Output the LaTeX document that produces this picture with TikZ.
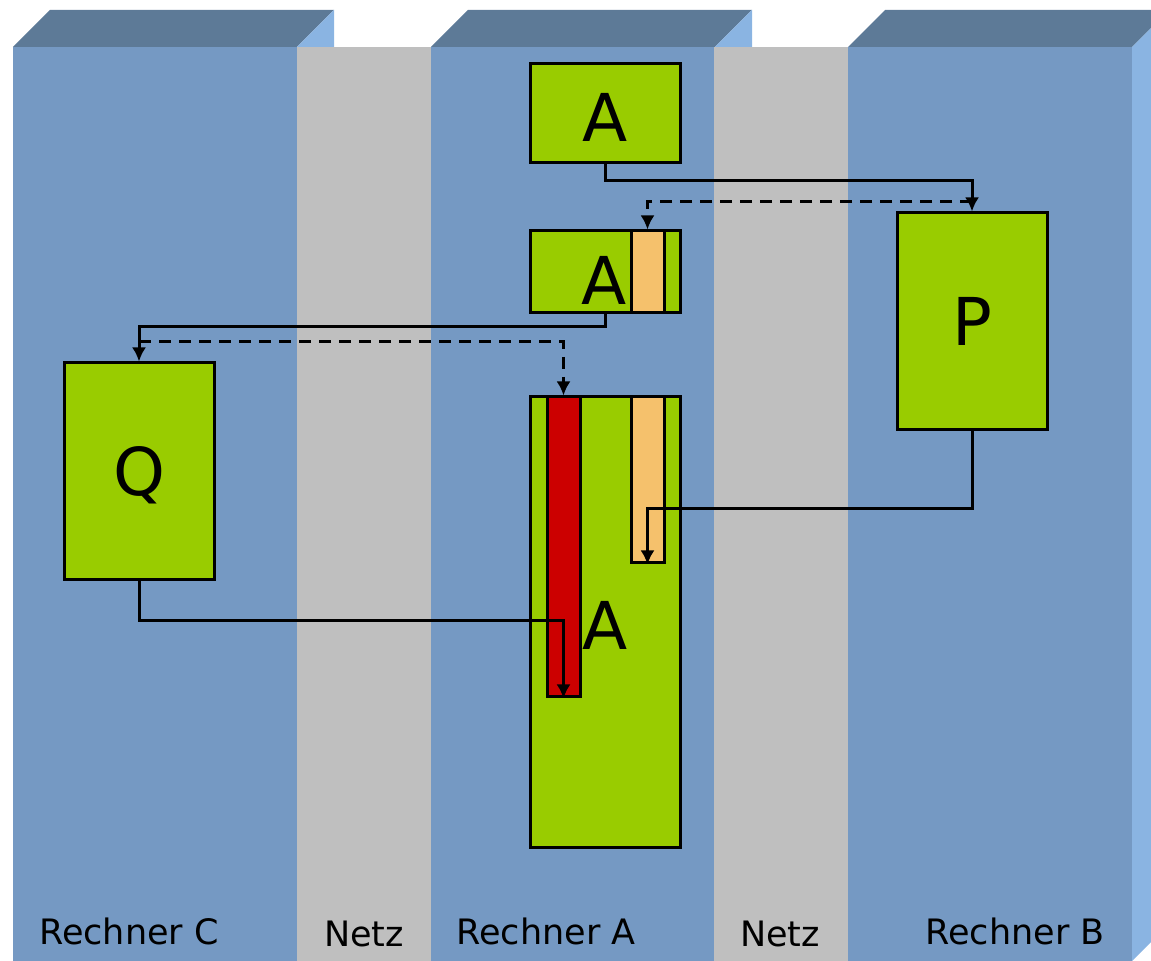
\documentclass[tikz,border=0pt]{standalone}
\usepackage{fontspec}
\setmainfont{DejaVu Sans}
\usetikzlibrary{arrows.meta}
\definecolor{pillarfront}{RGB}{117,153,195}
\definecolor{pillartop}{RGB}{93,122,151}
\definecolor{pillarside}{RGB}{138,180,226}
\definecolor{netzgray}{RGB}{191,191,191}
\definecolor{procgreen}{RGB}{153,204,0}
\definecolor{segorange}{RGB}{245,193,108}
\definecolor{segred}{RGB}{204,0,0}

\begin{document}
\begin{tikzpicture}[x=0.5pt,y=-0.5pt,line width=1.5pt,
  proc/.style={draw=black,fill=procgreen,inner sep=0pt,minimum width=75pt,font=\fontsize{33}{36}\selectfont},
  seg/.style={draw=black,inner sep=0pt,minimum width=16.5pt},
  big/.style={font=\fontsize{33}{36}\selectfont,inner sep=0pt},
  lbl/.style={font=\fontsize{17.5}{20}\selectfont,anchor=base,inner sep=0pt},
  move/.style={-{Latex[length=7pt,width=7pt]}},
  copyref/.style={-{Latex[length=7pt,width=7pt]},dash pattern=on 6pt off 4pt}]
  \clip (0,0) rectangle (1151,961);

  % Rechner als Saeulen
  \foreach \l in {13,431,848} {
    \fill[pillarfront] (\l,47) rectangle (\l+284,961);
    \fill[pillartop] (\l,47) -- (\l+284,47) -- (\l+321,10) -- (\l+37,10) -- cycle;
    \fill[pillarside] (\l+284,47) -- (\l+321,10) -- (\l+321,924) -- (\l+284,961) -- cycle;
  }
  \foreach \l in {297,714}
    \fill[netzgray] (\l,47) rectangle (\l+134,961);

  \foreach \x/\y/\name [count=\i] in {129/944/Rechner C,364/946/Netz,546/944/Rechner A,
      780/946/Netz,1015/944/Rechner B}
    \node[lbl] (lab\i) at (\x,\y) {\name};

  % Prozesse
  \node[proc,minimum height=49.5pt,text height=28pt,text depth=0pt] (atop) at (605,113.5) {A};
  \node[proc,minimum height=41pt] (amid) at (605,272) {};
  \node[seg,fill=segorange,minimum height=41pt] (omid) at (647.5,272) {};
  \node[big] (amidtxt) at (604,280) {A};
  \node[proc,minimum height=225pt] (abig) at (605,622) {};
  \node[seg,fill=segred,minimum height=150pt] (red) at (563.5,547) {};
  \node[seg,fill=segorange,minimum height=83pt] (obig) at (647.5,480) {};
  \node[big] (abigtxt) at (605,625) {A};
  \node[proc,minimum height=108.5pt] (p) at (972,321.5) {P};
  \node[proc,minimum height=108.5pt,text height=28pt] (q) at (139,471.5) {Q};

  \draw[move] (atop.south) -- ++(0,16) -| (p.north);
  \draw[copyref] (p.north) ++(0,-10) -| (omid.north);
  \draw[move] (amid.south) -- ++(0,12) -| (q.north);
  \draw[copyref] (q.north) ++(0,-20) -| (red.north);
  \draw[move] (p.south) -- ++(0,77) -| (obig.south);
  \draw[move] (q.south) -- ++(0,39) -| (red.south);
\end{tikzpicture}
\end{document}
